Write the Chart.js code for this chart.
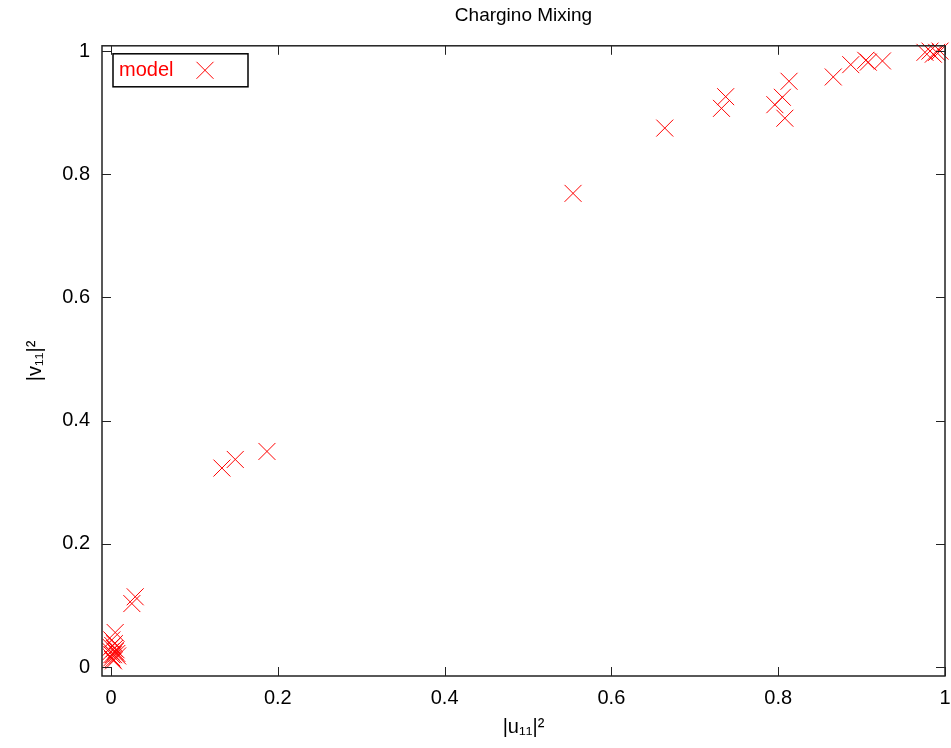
<!DOCTYPE html>
<html>
<head>
<meta charset="utf-8">
<script src="https://cdn.jsdelivr.net/npm/chart.js@4/dist/chart.umd.min.js"></script>
<style>
  body { margin: 0; background: #fff; }
  #wrap { width: 951px; height: 748px; }
</style>
</head>
<body>
<div id="wrap"><canvas id="mixChart"></canvas></div>
<script>
// |u11|^2 values (x) and |v11|^2 values (y)
const u11sq = [
    0.001, 0.005, 0.002, 0.004, 0.000, 0.003, 0.006, 0.001, 0.002, 0.007, 0.000, 0.004, 0.008, 0.003, 0.001, 0.005,
    0.025, 0.029,
    0.133, 0.149, 0.187,
    0.554, 0.664, 0.732, 0.737,
    0.796, 0.805, 0.813, 0.808,
    0.866, 0.887, 0.905, 0.908, 0.925,
    0.976, 0.982, 0.986, 0.990, 0.994
];
const v11sq = [
    0.044, 0.056, 0.035, 0.030, 0.025, 0.020, 0.028, 0.015, 0.012, 0.022, 0.032, 0.038, 0.018, 0.010, 0.020, 0.025,
    0.103, 0.114,
    0.323, 0.337, 0.350,
    0.769, 0.875, 0.907, 0.926,
    0.913, 0.925, 0.951, 0.891,
    0.958, 0.978, 0.985, 0.982, 0.984,
    0.998, 1.000, 0.995, 0.998, 1.000
];
const xTicks = [0, 0.2, 0.4, 0.6, 0.8, 1];
const yTicks = [0, 0.2, 0.4, 0.6, 0.8, 1];
const seriesName = "model";

const FONT = "'Liberation Sans Narrow', 'Liberation Sans', Arial, sans-serif";
const RED = "rgb(255, 0, 0)";

// gnuplot-style frame with inward ticks on all four sides, plus the key box
const framePlugin = {
    id: "frame",
    afterDraw(chart) {
        const ctx = chart.ctx;
        const a = chart.chartArea;
        const xs = chart.scales.x, ys = chart.scales.y;
        const tl = 9;
        ctx.save();
        ctx.strokeStyle = "#222";
        ctx.lineWidth = 1.5;
        ctx.strokeRect(a.left, a.top, a.right - a.left, a.bottom - a.top);
        ctx.lineWidth = 1;
        ctx.beginPath();
        xTicks.forEach(v => {
            const px = Math.round(xs.getPixelForValue(v)) + 0.5;
            ctx.moveTo(px, a.bottom); ctx.lineTo(px, a.bottom - tl);
            ctx.moveTo(px, a.top); ctx.lineTo(px, a.top + tl);
        });
        yTicks.forEach(v => {
            const py = Math.round(ys.getPixelForValue(v)) + 0.5;
            ctx.moveTo(a.left, py); ctx.lineTo(a.left + tl, py);
            ctx.moveTo(a.right, py); ctx.lineTo(a.right - tl, py);
        });
        ctx.stroke();

        // key
        const bx = a.left + 11, by = a.top + 8, bw = 135, bh = 33;
        ctx.strokeStyle = "#000";
        ctx.lineWidth = 1.5;
        ctx.strokeRect(bx, by, bw, bh);
        ctx.fillStyle = RED;
        ctx.font = "20px " + FONT;
        ctx.textAlign = "left";
        ctx.textBaseline = "middle";
        ctx.fillText(seriesName, bx + 6, by + bh / 2);
        const cx = bx + 92, cy = by + bh / 2, r = 8.5;
        ctx.strokeStyle = RED;
        ctx.lineWidth = 1;
        ctx.beginPath();
        ctx.moveTo(cx - r, cy - r); ctx.lineTo(cx + r, cy + r);
        ctx.moveTo(cx - r, cy + r); ctx.lineTo(cx + r, cy - r);
        ctx.stroke();
        ctx.restore();
    }
};

const points = u11sq.map((u, i) => ({ x: u, y: v11sq[i] }));

new Chart(document.getElementById("mixChart"), {
    type: "scatter",
    data: {
        datasets: [{
            label: seriesName,
            data: points,
            pointStyle: "crossRot",
            pointRadius: 12,
            pointHoverRadius: 12,
            borderColor: RED,
            backgroundColor: RED,
            pointBorderColor: RED,
            pointBackgroundColor: RED,
            pointHoverBorderColor: RED,
            borderWidth: 1,
            clip: false
        }]
    },
    options: {
        responsive: true,
        maintainAspectRatio: false,
        animation: false,
        events: [],
        layout: { autoPadding: false, padding: { right: 6, left: 0, top: 0, bottom: 0 } },
        plugins: {
            legend: { display: false },
            tooltip: { enabled: false },
            title: {
                display: true,
                text: "Chargino Mixing",
                fullSize: false,
                color: "#000",
                font: { family: FONT, size: 19, weight: "normal" },
                padding: { top: 4, bottom: 19 }
            }
        },
        scales: {
            x: {
                type: "linear",
                min: -0.0108,
                max: 1.0,
                grid: { display: false, drawTicks: false },
                border: { display: false },
                ticks: {
                    stepSize: 0.2,
                    includeBounds: false,
                    padding: 10,
                    color: "#000",
                    font: { family: FONT, size: 20 },
                    callback: v => String(Math.round(v * 10) / 10)
                },
                title: {
                    display: true,
                    text: "|u\u2081\u2081|\u00b2",
                    color: "#000",
                    font: { family: FONT, size: 20 },
                    padding: { top: 0, bottom: 9 }
                },
                afterFit: s => { s.height = 72; s.paddingLeft = 0; s.paddingRight = 0; }
            },
            y: {
                type: "linear",
                min: -0.0146,
                max: 1.0086,
                grid: { display: false, drawTicks: false },
                border: { display: false },
                ticks: {
                    stepSize: 0.2,
                    includeBounds: false,
                    padding: 12,
                    color: "#000",
                    font: { family: FONT, size: 20 },
                    callback: v => String(Math.round(v * 10) / 10)
                },
                title: {
                    display: true,
                    text: "|v\u2081\u2081|\u00b2",
                    color: "#000",
                    font: { family: FONT, size: 20 },
                    padding: { top: 23, bottom: 0 }
                },
                afterFit: s => { s.width = 102; s.paddingTop = 0; s.paddingBottom = 0; }
            }
        }
    },
    plugins: [framePlugin]
});
</script>
</body>
</html>
